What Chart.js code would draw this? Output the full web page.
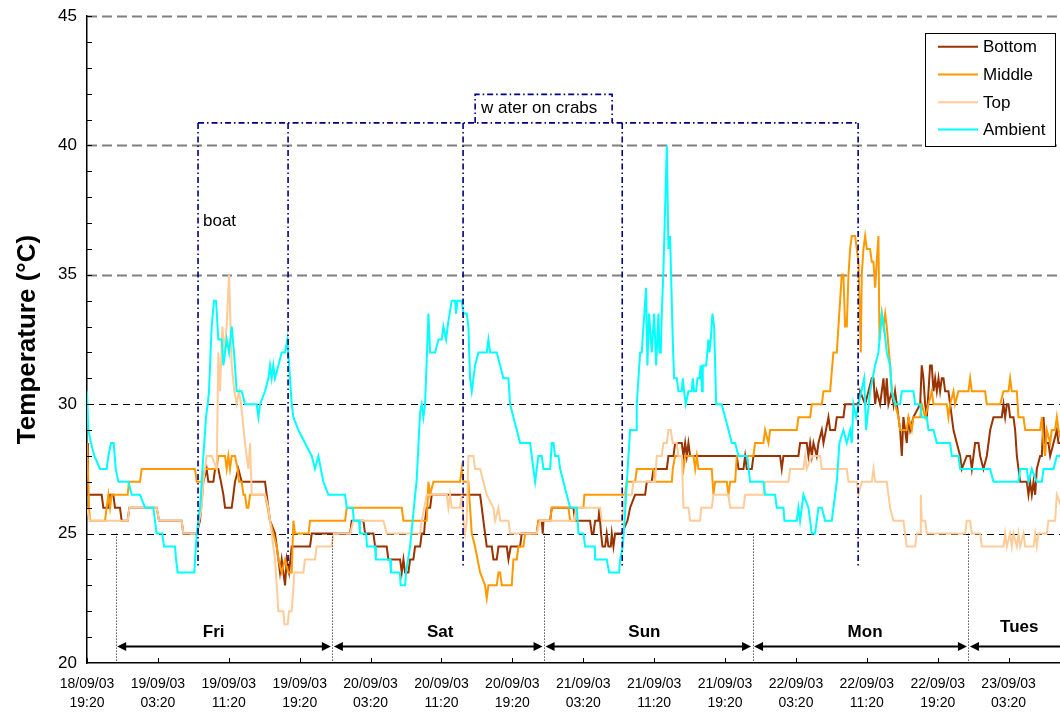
<!DOCTYPE html>
<html>
<head>
<meta charset="utf-8">
<script src="https://cdn.jsdelivr.net/npm/chart.js@4.4.0/dist/chart.umd.min.js"></script>
<style>
html,body{margin:0;padding:0;background:#fff;}
#wrap{width:1060px;height:715px;}
</style>
</head>
<body>
<div id="wrap"><canvas id="c" width="1060" height="715"></canvas></div>
<script>
// ---------- DATA (hours after 18/09/03 19:20, temperature °C) ----------
const tickHours = [0,8,16,24,32,40,48,56,64,72,80,88,96,104];
const tickDates = ['18/09/03','19/09/03','19/09/03','19/09/03','20/09/03','20/09/03','20/09/03','21/09/03','21/09/03','21/09/03','22/09/03','22/09/03','22/09/03','23/09/03'];
const tickTimes = ['19:20','03:20','11:20','19:20','03:20','11:20','19:20','03:20','11:20','19:20','03:20','11:20','19:20','03:20'];

const bottom = [[0,28.5],[0.1,26.5],[1.66,26.5],[1.84,26],[2.41,26],[2.6,26.5],[2.97,26.5],[3.16,26],[3.72,26],[3.91,25.5],[4.59,25.5],[4.78,26],[7.86,26],[8.13,25.5],[10.68,25.5],[10.87,25],[12.38,25],[12.75,25.5],[13.13,27],[13.5,27.5],[13.69,27],[14.26,27],[14.45,27.5],[14.82,27.5],[15.12,27],[15.39,26.5],[15.58,26],[16.33,26],[16.52,26.5],[16.7,27],[17.08,27.5],[17.46,27],[20.09,27],[20.28,26.5],[20.65,25.5],[21.22,25],[21.6,24],[21.78,23.5],[21.97,24],[22.16,23.5],[22.35,23],[22.54,24],[22.8,23.5],[23.1,24.5],[25.17,24.5],[25.36,25],[29.69,25],[29.87,25.5],[31.19,25.5],[31.38,25],[32.32,25],[32.51,24.5],[33.82,24.5],[34.01,24],[35.33,24],[35.52,23.5],[35.71,24],[35.89,23.5],[36.27,23.5],[36.46,24],[36.83,24],[37.02,24.5],[37.59,24.5],[37.77,25],[38.04,25],[38.15,25.5],[38.34,26],[38.72,26],[38.9,26.5],[44.36,26.5],[44.55,26],[44.73,25.5],[44.92,25],[45.11,24.5],[45.68,24.5],[45.86,24],[46.24,24],[46.43,24.5],[47.37,24.5],[47.56,24],[47.82,24.5],[48.87,24.5],[49.06,25],[50.75,25],[50.94,25.5],[51.32,25.5],[51.43,25],[51.51,25.5],[52.26,25.5],[52.45,26],[54.89,26],[55.08,25.5],[56.77,25.5],[56.96,25],[57.15,25],[57.34,25.5],[57.71,25.5],[57.83,26],[57.9,25.5],[58.01,25],[58.17,24.5],[58.47,24.5],[58.65,25],[58.84,24.5],[59.11,24.5],[59.22,25],[59.41,24.5],[59.6,25],[60.35,25],[60.99,25.5],[61.29,26],[61.85,26.5],[62.98,26.5],[63.17,27],[63.73,27],[63.92,27.5],[65.43,27.5],[65.61,28],[66.18,28],[66.37,28.5],[67.12,28.5],[67.31,28],[67.5,28.5],[67.68,28],[67.87,28.5],[68.06,28],[73.33,28],[73.52,27.5],[74.08,27.5],[74.27,28],[74.46,27.5],[75.02,27.5],[75.21,28],[78.21,28],[78.4,27.5],[78.59,28],[80.28,28],[80.47,28.5],[81.22,28.5],[81.41,28],[81.6,28.5],[81.79,28],[81.98,28.5],[82.35,28],[82.54,28.5],[82.92,29],[83.11,28.5],[83.67,29.5],[83.86,29],[84.42,29],[84.61,29.5],[85.36,29.5],[85.55,30],[87.06,30],[87.24,30.5],[87.81,30],[88.56,31],[88.75,31],[88.94,30],[89.12,30.5],[89.5,30],[89.88,31],[90.07,30],[90.25,31],[90.44,30],[90.82,30.5],[91.01,30],[91.19,30.5],[91.38,30],[91.57,29.5],[91.76,29],[91.95,28],[92.13,29.5],[92.32,29],[92.51,28.5],[92.7,29.5],[92.89,29],[93.26,29.5],[94.02,30],[94.2,31.5],[94.39,31],[94.58,30],[94.77,29.5],[94.96,30.5],[95.14,31.5],[95.33,31.5],[95.52,30.5],[95.71,31],[95.9,30.5],[96.09,31],[96.27,30.5],[96.46,31],[96.65,31],[96.84,30.5],[97.21,30.5],[97.4,30],[97.59,29.5],[97.78,29],[98.15,28.5],[98.53,28],[98.72,27.5],[99.28,28],[99.66,28],[99.85,27.5],[100.22,28.5],[100.6,28.5],[100.79,28],[101.16,27.5],[101.54,28],[101.73,28.5],[101.92,29],[102.29,29.5],[103.23,29.5],[103.42,30],[103.61,29.5],[103.8,30],[103.99,30],[104.17,29.5],[104.55,29.5],[104.74,29],[104.93,28],[105.3,27],[106.06,27],[106.24,26.5],[106.43,27],[106.62,26.5],[106.81,27],[107.0,26.5],[107.18,27.5],[107.56,28],[107.75,28],[107.94,29.5],[108.12,28.5],[108.5,28.5],[108.69,28],[109.07,28.5],[109.44,29],[109.63,28.5],[110,28.5]];

const middle = [[0,28.5],[0.15,27],[0.23,26],[0.34,25.5],[2.03,25.5],[2.22,26],[2.41,26.5],[2.6,26],[2.78,26.5],[4.59,26.5],[4.74,27],[5.98,27],[6.17,27.5],[12.19,27.5],[12.38,27],[12.94,27],[13.32,27.5],[14.64,27.5],[14.82,28],[15.58,28],[15.76,27.5],[15.95,28],[16.14,27.5],[16.33,28],[16.7,28],[17.0,27.5],[17.16,27],[17.46,27],[17.65,26.5],[17.83,26.5],[18.02,26],[18.21,26],[18.4,26.5],[20.09,26.5],[20.39,26],[20.65,25.5],[21.03,25],[21.41,24.5],[21.6,24],[21.97,23.5],[22.35,24],[22.72,23.5],[23.1,23.5],[23.29,25.5],[23.48,25],[23.85,25],[25.0,25],[25.17,25.5],[29.12,25.5],[29.31,26],[35.52,26],[35.71,25.5],[38.34,25.5],[38.53,27],[38.72,26.5],[39.09,27],[42.1,27],[42.29,27.5],[42.48,27],[43.04,27],[43.42,25],[43.79,24.5],[44.36,23.5],[44.92,23],[45.11,22.5],[45.3,23],[46.24,23],[46.43,23.5],[46.62,23.5],[46.8,23],[47.93,23],[48.12,24],[48.5,24],[48.68,24.5],[49.25,24.5],[49.44,25],[50.75,25],[50.94,25.5],[52.26,25.5],[52.45,26],[54.33,26],[54.52,25.5],[55.08,25.5],[55.27,26],[56.02,26],[56.13,26.5],[60.72,26.5],[60.9,27],[61.85,27],[62.04,27.5],[63.92,27.5],[64.1,27],[66.0,27],[66.1,27.5],[66.37,28],[67.12,28],[67.31,27.5],[67.5,28],[68.44,28],[68.63,27.5],[68.82,28],[69.0,27.5],[70.5,27.5],[70.69,26.5],[70.88,27],[72.2,27],[72.39,26.5],[72.58,27],[73.14,27],[73.33,28],[75.2,28],[75.39,28.5],[76.33,28.5],[76.52,29],[76.9,28.5],[77.09,29],[80.1,29],[80.28,29.5],[81.6,29.5],[81.79,30],[82.92,30],[83.11,30.5],[83.86,30.5],[84.23,32],[84.61,32],[84.8,33],[85.17,35],[85.36,35],[85.55,33],[85.74,33],[85.93,35],[86.12,36],[86.3,36.5],[86.68,36.5],[86.87,36],[87.06,35.5],[87.32,32],[87.43,35],[87.62,36],[87.81,36.5],[88.0,36],[88.37,36],[88.56,35.5],[88.75,35.5],[88.94,34.5],[89.12,35.5],[89.31,36.5],[89.43,32.5],[89.69,33.5],[89.88,33],[90.07,33.5],[90.25,33],[90.63,31.5],[90.82,30.5],[91.19,30],[91.57,29.5],[91.76,29],[92.51,29],[92.7,29.5],[93.07,29],[93.26,29.5],[94.02,29.5],[94.2,30],[94.58,29.5],[94.96,30],[95.33,30.5],[95.52,30],[97.02,30],[97.21,29.5],[97.4,30],[97.78,30.5],[97.96,30],[98.34,30.5],[99.47,30.5],[99.66,31],[99.85,30.5],[101.35,30.5],[101.54,30],[103.05,30],[103.42,30.5],[103.99,30.5],[104.17,31],[104.36,30.5],[104.93,30.5],[105.11,29.5],[105.68,29.5],[105.87,29],[107.56,29],[107.75,29.5],[107.94,28.5],[108.12,28],[108.31,29],[108.69,28.5],[108.87,29],[109.25,29],[109.44,29.5],[109.63,29],[110,28.5]];

const top_ = [[0,26],[0.3,25.5],[4.6,25.5],[4.78,26],[7.86,26],[8.13,25.5],[10.68,25.5],[10.87,25],[12.38,25],[12.94,26],[13.13,27],[13.5,28],[14.07,28],[14.64,27.5],[14.82,32],[15.01,30.5],[15.28,33],[15.5,32],[15.76,33],[16.03,35],[16.33,31.5],[16.63,30.5],[16.89,30],[17.16,30.5],[17.39,30],[17.83,28.5],[18.21,27.5],[18.4,28.5],[18.59,26.5],[20.09,26.5],[20.47,26],[20.84,25],[21.22,24],[21.41,23],[21.6,22],[22.16,22],[22.27,21.5],[22.65,21.5],[22.8,22],[23.1,22],[23.4,23.5],[24.42,23.5],[24.6,24],[25.73,24],[25.92,24.5],[27.61,24.5],[27.8,25],[29.69,25],[30.06,25.5],[33.45,25.5],[33.82,25],[37.59,25],[37.77,25.5],[38.34,26.5],[40.6,26.5],[40.78,26],[40.97,26.5],[41.16,26],[42.1,26],[42.29,26.5],[42.48,25.5],[42.67,25],[42.85,25.5],[43.04,28],[43.61,28],[43.79,27.5],[44.36,27.5],[44.73,27],[45.11,26.5],[45.86,26],[46.05,25.5],[46.43,26],[46.62,25.5],[47.56,25.5],[47.74,25],[50.75,25],[51.13,25.5],[55.0,25.5],[55.2,26],[57.9,26],[58.09,25.5],[60.35,25.5],[60.72,26.5],[61.47,26.5],[61.66,27],[64.1,27],[64.3,28],[64.86,28],[65.05,28.5],[65.43,28.5],[65.61,29],[65.88,29],[66.1,28.5],[66.55,28.5],[66.74,28],[67.12,28],[67.31,26],[67.87,26],[68.06,25.5],[69.19,25.5],[69.3,26],[70.5,26],[70.69,26.5],[72.39,26.5],[72.58,26],[74.08,26],[74.27,26.5],[76.33,26.5],[76.52,27],[79.16,27],[79.34,27.5],[80.85,27.5],[81.04,28],[81.22,27.5],[81.79,28],[82.73,28],[82.92,27.5],[85.74,27.5],[85.93,27],[86.87,27],[87.06,26.5],[87.43,27],[88.56,27],[88.75,27.5],[88.94,27],[90.25,27],[90.63,26],[91.0,25.5],[92.13,25.5],[92.32,25],[92.51,24.5],[93.45,24.5],[93.64,25],[94.02,25],[94.09,26.5],[94.2,25.5],[94.58,25.5],[94.77,25],[99.09,25],[99.28,25.5],[99.66,25.5],[99.85,25],[100.79,25],[100.98,24.5],[103.42,24.5],[103.61,25],[103.8,24.5],[104.17,25],[104.36,24.5],[104.55,25],[104.93,24.5],[105.11,25],[105.3,24.5],[105.68,25],[105.87,24.5],[106.81,24.5],[107.0,25],[107.18,24.5],[107.37,25],[108.31,25],[108.5,25.5],[109.25,25.5],[109.44,26.5],[110,26]];

const ambient = [[0,30.5],[0.15,29],[0.45,28.5],[0.83,28],[1.47,27.5],[2.22,27.5],[2.41,28],[2.71,28.5],[3.01,28.5],[3.24,27.5],[3.54,27],[4.67,27],[5.04,26.5],[5.98,26.5],[6.55,26],[7.49,26],[7.67,25.5],[7.86,25],[8.5,25],[8.69,24.5],[9.93,24.5],[10.05,24],[10.23,23.5],[12.11,23.5],[12.38,25],[12.75,26],[13.13,28],[13.43,29.5],[13.62,30],[13.77,30.5],[14.07,33],[14.33,34],[14.56,34],[14.82,32.5],[15.2,32.5],[15.39,31.5],[15.76,32.5],[16.03,32],[16.33,33],[16.59,32],[16.89,30.5],[17.46,30.5],[17.83,30],[19.15,30],[19.34,29.5],[19.53,30],[20.09,30.5],[20.47,31],[20.65,31.5],[20.84,31],[21.03,31.5],[21.22,31],[21.6,31.5],[21.97,32],[22.35,32],[22.61,32.5],[22.91,31],[23.1,30],[23.29,29.5],[23.85,29],[24.6,28.5],[25.36,28],[25.73,27.5],[26.11,28],[26.67,27],[27.24,26.5],[29.12,26.5],[29.31,26],[30.0,26],[30.1,25.5],[30.7,25.5],[30.8,25],[31.5,25],[31.6,24.5],[32.5,24.5],[32.6,24],[34.2,24],[34.3,23.5],[35.3,23.5],[35.4,23],[35.9,23],[36.0,23.5],[36.46,24.5],[36.83,25.8],[37.21,27.1],[37.59,29.7],[37.77,30],[37.96,29.5],[38.15,30],[38.53,33.5],[38.72,32],[39.28,32],[39.66,32.5],[40.03,32.5],[40.22,33],[40.52,32.5],[40.78,33.2],[41.16,34],[41.54,34],[41.65,33.5],[41.8,34],[42.29,34],[42.48,33.5],[42.85,33.5],[43.04,33],[43.23,31],[43.42,30.5],[43.61,31],[43.79,31.5],[44.17,32],[45.11,32],[45.3,32.5],[45.49,32],[46.24,32],[46.62,31.5],[46.99,31],[47.56,31],[47.74,30],[48.12,29.5],[48.5,29],[48.87,28.5],[50.0,28.5],[50.38,27.5],[50.57,27],[50.94,28],[51.32,28],[51.51,27.5],[52.26,27.5],[52.45,28.5],[52.64,28.5],[52.82,28],[53.2,28],[53.39,27.5],[53.76,27],[54.14,26.5],[54.52,26],[55.27,26],[55.46,25],[56.02,25],[56.21,24.5],[57.3,24.5],[57.34,24],[58.65,24],[58.92,23.5],[60.05,23.5],[60.16,24],[60.46,24.5],[60.72,25.8],[61.1,28],[61.29,29],[61.97,29],[62.04,30],[62.42,32],[62.6,32],[63.09,34.5],[63.24,31.5],[63.43,33.5],[63.73,32],[64.0,33.5],[64.22,31.5],[64.49,33.5],[64.6,32],[64.75,32],[64.86,33.5],[65.05,35.2],[65.43,40],[65.61,36],[65.8,36.5],[66.1,32.5],[66.25,31],[66.55,31],[66.74,30.5],[67.12,30.5],[67.23,31],[67.38,30.5],[67.57,30],[67.87,30.5],[68.25,30.5],[68.36,31],[68.51,30.5],[68.74,30.5],[68.89,31],[69.11,31],[69.26,31.5],[69.41,30.5],[69.49,31.5],[69.87,31.5],[70.13,32.5],[70.24,32],[70.39,32.5],[70.58,33.5],[70.77,33],[71.0,30],[71.63,30],[72.01,29.5],[72.39,29],[72.76,28.5],[73.14,28.5],[73.52,28],[74.5,28],[74.83,27],[76.33,27],[76.52,26.5],[77.65,26.5],[77.84,26],[78.59,26],[78.7,25.5],[80.1,25.5],[80.28,26],[80.47,25.5],[80.85,26.5],[81.41,26],[81.79,25],[82.16,25],[82.54,26],[82.92,26],[83.29,25.5],[84.05,25.5],[84.23,26],[84.61,27],[84.91,28.5],[85.36,29],[85.74,28.5],[86.12,29],[86.3,28.5],[86.49,30],[86.79,29.5],[87.06,30],[87.7,31],[87.92,29],[88.37,30.5],[88.94,31.5],[89.31,32],[89.69,33.5],[89.95,33],[90.25,32],[90.63,31.5],[90.82,30.5],[91.19,30],[91.76,30],[91.95,30.5],[93.26,30.5],[93.45,30],[94.02,30],[94.2,29.5],[94.77,29.5],[94.96,29],[95.52,29],[95.9,28.5],[97.4,28.5],[97.59,28],[98.34,28],[98.53,27.5],[101.92,27.5],[102.29,27],[105.11,27],[105.3,27.5],[106.06,27.5],[106.24,27],[106.62,27.5],[107.18,27],[107.75,27],[107.94,27.5],[109.07,27.5],[109.44,28],[110,28]];

const seriesNames = ['Bottom','Middle','Top','Ambient'];
const seriesColors = ['#993300','#FF9900','#FFCC99','#00FFFF'];

// annotation content
const dayBoundaryHours = [3.24, 27.69, 51.58, 75.11, 99.47];
const dayNames = ['Fri','Sat','Sun','Mon','Tues'];
const dayLabelHours = [14.3, 39.85, 62.9, 87.8, 105.2];
const bracketHours = [12.53, 22.69, 42.44, 60.4, 87.02];
const waterBoxHours = [43.8, 59.26];
const gridLevels = [25, 30, 35, 40, 45];

// ---------- CHART ----------
const FONT = "'Liberation Sans', Arial, Helvetica, sans-serif";
const toXY = arr => arr.map(p => ({x: p[0], y: p[1]}));
const seriesData = [bottom, middle, top_, ambient];

const annotations = {
  id: 'annotations',
  beforeDatasetsDraw(chart) {
    const {ctx, chartArea: a, scales: {x, y}} = chart;
    ctx.save();
    gridLevels.forEach(v => {
      const gray = v >= 35;
      const py = Math.round(y.getPixelForValue(v)) + 0.5;
      ctx.strokeStyle = gray ? '#808080' : '#000000';
      ctx.lineWidth = gray ? 2 : 1;
      ctx.setLineDash(gray ? [10, 5] : [7, 5]);
      ctx.beginPath(); ctx.moveTo(a.left, py); ctx.lineTo(a.right, py); ctx.stroke();
    });
    ctx.restore();
  },
  afterDatasetsDraw(chart) {
    const {ctx, chartArea: a, scales: {x, y}} = chart;
    ctx.save();
    ctx.beginPath(); ctx.rect(a.left, 0, a.right - a.left, chart.height); ctx.clip();

    // navy dash-dot brackets
    const yTop = y.getPixelForValue(40.87), yBot = y.getPixelForValue(23.7), yBox = y.getPixelForValue(41.97);
    ctx.strokeStyle = '#000080'; ctx.lineWidth = 1.6; ctx.setLineDash([6, 3, 1.5, 3]);
    ctx.beginPath();
    ctx.moveTo(x.getPixelForValue(bracketHours[0]), yTop);
    ctx.lineTo(x.getPixelForValue(bracketHours[bracketHours.length - 1]), yTop);
    bracketHours.forEach(h => { const px = x.getPixelForValue(h); ctx.moveTo(px, yTop); ctx.lineTo(px, yBot); });
    const bl = x.getPixelForValue(waterBoxHours[0]), br = x.getPixelForValue(waterBoxHours[1]);
    ctx.moveTo(bl, yTop); ctx.lineTo(bl, yBox); ctx.lineTo(br, yBox); ctx.lineTo(br, yTop);
    ctx.stroke();

    ctx.setLineDash([]);
    ctx.fillStyle = '#000';
    ctx.font = '17px ' + FONT; ctx.textAlign = 'left'; ctx.textBaseline = 'middle';
    ctx.fillText('boat', x.getPixelForValue(13.09), y.getPixelForValue(37.08));
    ctx.fillText('w ater on crabs', x.getPixelForValue(44.47), y.getPixelForValue(41.45));

    // dotted day boundaries
    const y25 = y.getPixelForValue(25);
    ctx.strokeStyle = '#000'; ctx.lineWidth = 1; ctx.setLineDash([1, 2]);
    dayBoundaryHours.forEach(h => {
      const px = Math.round(x.getPixelForValue(h)) + 0.5;
      ctx.beginPath(); ctx.moveTo(px, y25); ctx.lineTo(px, a.bottom); ctx.stroke();
    });

    // double arrows
    ctx.setLineDash([]);
    const ay = y.getPixelForValue(20.64);
    const head = (tx, dir) => {
      ctx.beginPath(); ctx.moveTo(tx, ay); ctx.lineTo(tx + dir * 9, ay - 4.5); ctx.lineTo(tx + dir * 9, ay + 4.5); ctx.closePath(); ctx.fill();
    };
    ctx.lineWidth = 2;
    for (let i = 0; i < dayBoundaryHours.length; i++) {
      const x1 = x.getPixelForValue(dayBoundaryHours[i]) + 1.5;
      const x2 = i + 1 < dayBoundaryHours.length ? x.getPixelForValue(dayBoundaryHours[i + 1]) - 1.5 : a.right + 20;
      ctx.beginPath(); ctx.moveTo(x1 + 4, ay); ctx.lineTo(x2 - 4, ay); ctx.stroke();
      head(x1, 1); head(x2, -1);
    }
    ctx.font = 'bold 17px ' + FONT; ctx.textAlign = 'center'; ctx.textBaseline = 'middle';
    dayNames.forEach((n, i) => {
      const lv = n === 'Tues' ? 21.39 : 21.2;
      ctx.fillText(n, x.getPixelForValue(dayLabelHours[i]), y.getPixelForValue(lv));
    });
    ctx.restore();

    // inward tick marks
    ctx.save();
    ctx.strokeStyle = '#000'; ctx.lineWidth = 1;
    ctx.beginPath();
    for (let v = 21; v <= 45; v++) {
      const py = Math.round(y.getPixelForValue(v)) + 0.5;
      ctx.moveTo(a.left, py); ctx.lineTo(a.left + 5, py);
    }
    tickHours.forEach(h => {
      const px = Math.round(x.getPixelForValue(h)) + 0.5;
      ctx.moveTo(px, a.bottom); ctx.lineTo(px, a.bottom - 5);
    });
    ctx.stroke();
    ctx.restore();
  },
  afterDraw(chart) {
    const {ctx} = chart;
    ctx.save();
    const bx = 925.5, by = 33.5, bw = 130, bh = 113;
    ctx.fillStyle = '#fff'; ctx.fillRect(bx, by, bw, bh);
    ctx.strokeStyle = '#000'; ctx.lineWidth = 1; ctx.setLineDash([]);
    ctx.strokeRect(bx, by, bw, bh);
    const rows = [46.7, 74.5, 102.2, 129.5];
    ctx.font = '17px ' + FONT; ctx.textAlign = 'left'; ctx.textBaseline = 'middle';
    seriesNames.forEach((n, i) => {
      ctx.strokeStyle = seriesColors[i]; ctx.lineWidth = 2;
      ctx.beginPath(); ctx.moveTo(938, rows[i]); ctx.lineTo(978, rows[i]); ctx.stroke();
      ctx.fillStyle = '#000'; ctx.fillText(n, 983, rows[i] + 1);
    });
    ctx.restore();
  }
};

new Chart(document.getElementById('c'), {
  type: 'line',
  data: {
    datasets: seriesData.map((d, i) => ({
      label: seriesNames[i],
      data: toXY(d),
      borderColor: seriesColors[i],
      backgroundColor: seriesColors[i],
      borderWidth: 2,
      pointRadius: 0,
      tension: 0,
      fill: false,
      order: 4 - i
    }))
  },
  options: {
    responsive: false,
    devicePixelRatio: 1,
    animation: false,
    layout: {padding: {top: 16, right: 0, left: 0, bottom: 0}},
    plugins: {legend: {display: false}, tooltip: {enabled: false}},
    scales: {
      x: {
        type: 'linear', min: 0, max: 109.8,
        afterBuildTicks(s) { s.ticks = tickHours.map(v => ({value: v})); },
        afterFit(s) { s.height = 52; },
        ticks: {
          autoSkip: false, maxRotation: 0, minRotation: 0, padding: 12, color: '#000',
          font: {family: FONT, size: 14, lineHeight: 1.36},
          callback: (v) => { const i = tickHours.indexOf(v); return i < 0 ? '' : [tickDates[i], tickTimes[i]]; }
        },
        grid: {display: false, drawTicks: false},
        border: {display: true, color: '#000', width: 1.5}
      },
      y: {
        min: 20, max: 45,
        afterFit(s) { s.width = 87; },
        ticks: {stepSize: 5, padding: 10, color: '#000', font: {family: FONT, size: 17, lineHeight: 0.7}},
        grid: {display: false, drawTicks: false},
        border: {display: true, color: '#000', width: 1.5},
        title: {display: true, text: 'Temperature (°C)', color: '#000',
                font: {family: FONT, size: 26, weight: 'bold'}, padding: {top: 12, bottom: 0}}
      }
    }
  },
  plugins: [annotations]
});
</script>
</body>
</html>
